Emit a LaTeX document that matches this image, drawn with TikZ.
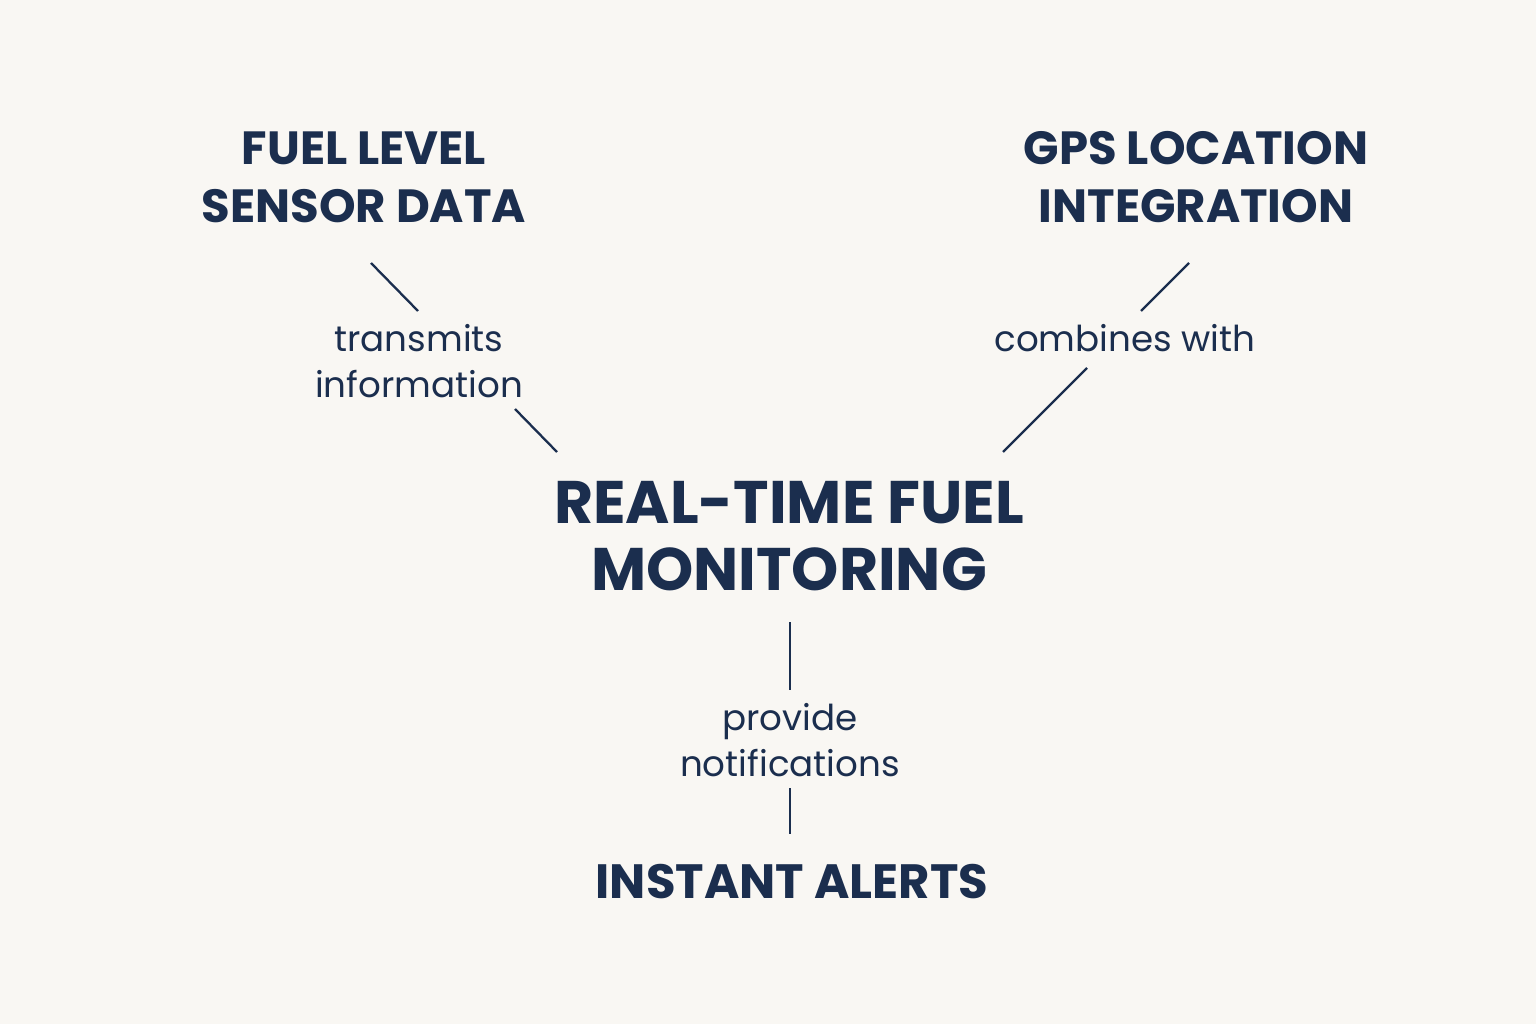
\documentclass[tikz,border=0pt]{standalone}
\usepackage{fontspec}
\setmainfont{Poppins}
\definecolor{bg}{HTML}{F9F7F3}
\definecolor{ink}{HTML}{1B2E4E}
\begin{document}
\begin{tikzpicture}[x=0.02cm,y=-0.02cm,
  head/.style={text=ink,align=center,font=\fontsize{26.5}{33}\selectfont\bfseries},
  lab/.style={text=ink,align=center,font=\fontsize{20.3}{26}\selectfont},
  ln/.style={draw=ink,line width=1.3pt}]
\fill[bg] (0,0) rectangle (1536,1024);
\node[head] (fuel) at (364,177) {FUEL LEVEL\\SENSOR DATA};
\node[head] (gps) at (1196,177) {GPS LOCATION\\INTEGRATION};
\node[head,font=\fontsize{34.2}{38}\selectfont\bfseries] (main) at (789,536) {REAL-TIME FUEL\\MONITORING};
\node[head,font=\fontsize{27.4}{33}\selectfont\bfseries] (alerts) at (792,882) {INSTANT ALERTS};
\node[lab] (tr) at (419,361) {transmits\\information};
\node[lab] (cw) at (1125,338) {combines with};
\node[lab] (pn) at (790,740) {provide\\notifications};
\coordinate (a1) at (371,263); \coordinate (a2) at (418,311);
\coordinate (a3) at (515,409); \coordinate (a4) at (557,452);
\coordinate (b1) at (1189,263); \coordinate (b2) at (1141,311);
\coordinate (b3) at (1087,368); \coordinate (b4) at (1003,452);
\coordinate (c1) at (790,622); \coordinate (c2) at (790,690);
\coordinate (c3) at (790,788); \coordinate (c4) at (790,834);
\draw[ln] (a1)--(a2); \draw[ln] (a3)--(a4);
\draw[ln] (b1)--(b2); \draw[ln] (b3)--(b4);
\draw[ln] (c1)--(c2); \draw[ln] (c3)--(c4);
\end{tikzpicture}
\end{document}
